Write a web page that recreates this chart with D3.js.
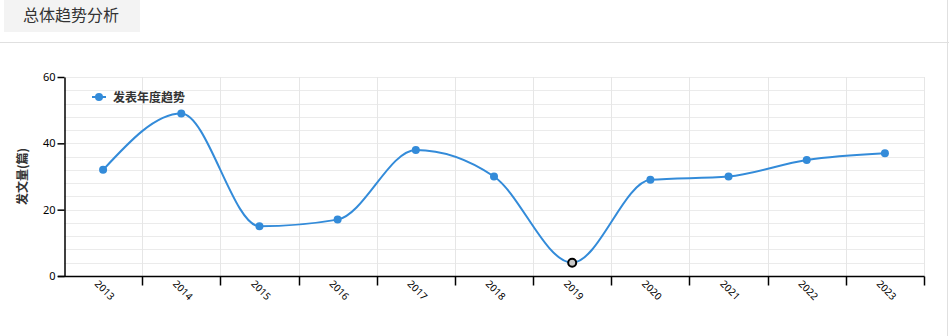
<!DOCTYPE html>
<html>
<head>
<meta charset="utf-8">
<script src="https://cdn.jsdelivr.net/npm/d3@7"></script>
<style>
  body { margin: 0; background: #fff; font-family: "Noto Sans CJK SC", "Noto Sans", sans-serif; }
  #chart { width: 949px; height: 336px; }
</style>
</head>
<body>
<div id="chart"></div>
<script>
// data
const years = ["2013", "2014", "2015", "2016", "2017", "2018", "2019", "2020", "2021", "2022", "2023"];
const counts = [32, 49, 15, 17, 38, 30, 4, 29, 30, 35, 37];
const yTicks = [0, 20, 40, 60];
const seriesName = "发表年度趋势";
const highlightYear = "2019";

const W = 949, H = 336;
const plot = { left: 64, right: 924, top: 77, bottom: 276 };
const blue = "#338bd9";

const svg = d3.select("#chart").append("svg")
  .attr("width", W).attr("height", H);

// header tab + borders
svg.append("rect").attr("x", 4).attr("y", 0).attr("width", 136).attr("height", 32).attr("fill", "#f3f3f3");
svg.append("text").attr("x", 71).attr("y", 21).attr("text-anchor", "middle")
  .attr("font-size", 16).attr("fill", "#333").text("总体趋势分析");
svg.append("line").attr("x1", 0).attr("x2", W).attr("y1", 42.5).attr("y2", 42.5).attr("stroke", "#e0e0e0");
svg.append("line").attr("x1", 947.5).attr("x2", 947.5).attr("y1", 0).attr("y2", H).attr("stroke", "#e0e0e0");

// scales
const x = d3.scaleBand().domain(years).range([plot.left, plot.right]);
const y = d3.scaleLinear().domain([0, 60]).range([plot.bottom, plot.top]);
const cx = d => x(d) + x.bandwidth() / 2;

// grid
const grid = svg.append("g");
grid.selectAll("line.h").data(d3.range(4, 61, 4)).enter().append("line")
  .attr("x1", plot.left).attr("x2", plot.right)
  .attr("y1", d => Math.round(y(d)) + 0.5).attr("y2", d => Math.round(y(d)) + 0.5)
  .attr("stroke", "#ebebeb");
grid.selectAll("line.v").data(years.slice(1).concat(["end"])).enter().append("line")
  .attr("x1", (d, i) => Math.round(plot.left + x.step() * (i + 1)) + 0.5)
  .attr("x2", (d, i) => Math.round(plot.left + x.step() * (i + 1)) + 0.5)
  .attr("y1", plot.top).attr("y2", plot.bottom)
  .attr("stroke", "#e6e6e6");

// y axis
const yAxis = svg.append("g")
  .attr("transform", `translate(${plot.left + 0.5},0)`)
  .call(d3.axisLeft(y).tickValues(yTicks).tickSize(7).tickSizeOuter(0));
yAxis.select(".domain").attr("stroke", "#000").attr("stroke-width", 1.5);
yAxis.selectAll(".tick line").attr("stroke", "#000").attr("stroke-width", 1.5);
yAxis.selectAll("text").attr("font-size", 11).attr("fill", "#000")
  .attr("font-family", "'Noto Sans', sans-serif").attr("x", -9);

svg.append("text")
  .attr("transform", `translate(27,${(plot.top + plot.bottom) / 2}) rotate(-90)`)
  .attr("text-anchor", "middle").attr("font-size", 12).attr("font-weight", "bold")
  .attr("fill", "#333").text("发文量(篇)");

// x axis
const xAxis = svg.append("g").attr("transform", `translate(0,${plot.bottom + 0.5})`);
xAxis.append("line").attr("x1", plot.left - 6).attr("x2", plot.right + 0.5)
  .attr("stroke", "#000").attr("stroke-width", 1.5);
xAxis.selectAll("line.t").data(d3.range(1, years.length + 1)).enter().append("line")
  .attr("x1", i => Math.round(plot.left + x.step() * i) + 0.5)
  .attr("x2", i => Math.round(plot.left + x.step() * i) + 0.5)
  .attr("y1", 0).attr("y2", 9).attr("stroke", "#000").attr("stroke-width", 1.5);
xAxis.selectAll("text").data(years).enter().append("text")
  .attr("transform", d => `translate(${cx(d) - 9},${8}) rotate(45)`)
  .attr("font-size", 10).attr("fill", "#000")
  .attr("font-family", "'Noto Sans', sans-serif")
  .text(d => d);

// line
const line = d3.line()
  .x((d, i) => cx(years[i]))
  .y(d => y(d))
  .curve(d3.curveMonotoneX);
svg.append("path").datum(counts)
  .attr("d", line).attr("fill", "none").attr("stroke", blue).attr("stroke-width", 2);

svg.selectAll("circle.pt").data(counts).enter().append("circle")
  .attr("cx", (d, i) => cx(years[i])).attr("cy", d => y(d))
  .attr("r", 4)
  .attr("fill", (d, i) => years[i] === highlightYear ? "#c8c8c8" : blue)
  .attr("stroke", (d, i) => years[i] === highlightYear ? "#000" : "none")
  .attr("stroke-width", 2);

// legend
const lg = svg.append("g").attr("transform", "translate(92,97)");
lg.append("line").attr("x1", 0).attr("x2", 14).attr("stroke", blue).attr("stroke-width", 2);
lg.append("circle").attr("cx", 7).attr("r", 4).attr("fill", blue);
lg.append("text").attr("x", 21).attr("y", 4.5).attr("font-size", 12).attr("font-weight", "bold")
  .attr("fill", "#333").text(seriesName);
</script>
</body>
</html>
